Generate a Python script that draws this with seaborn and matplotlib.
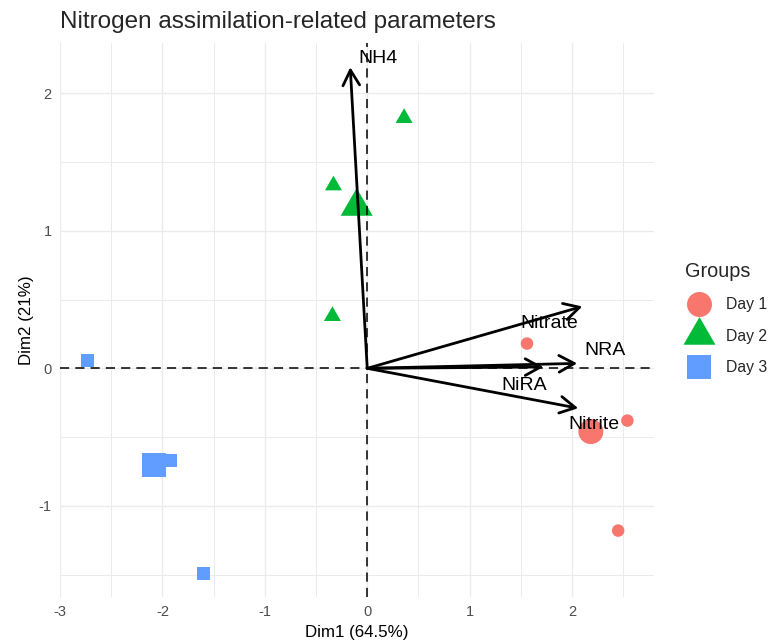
import numpy as np
import pandas as pd
import matplotlib
matplotlib.use("Agg")
import matplotlib.pyplot as plt
import seaborn as sns
from matplotlib.path import Path
from matplotlib.lines import Line2D

# ---------------- data ----------------
groups = ["Day 1", "Day 1", "Day 1", "Day 2", "Day 2", "Day 2", "Day 3", "Day 3", "Day 3"]
dim1 = [1.56, 2.54, 2.45, 0.36, -0.33, -0.34, -2.73, -1.92, -1.60]
dim2 = [0.18, -0.38, -1.18, 1.82, 1.33, 0.38, 0.06, -0.67, -1.49]

var_names = ["NH4", "Nitrate", "NRA", "NiRA", "Nitrite"]
var_dim1 = [-0.166, 2.10, 2.05, 1.72, 2.06]
var_dim2 = [2.19, 0.45, 0.036, 0.01, -0.29]

group_names = ["Day 1", "Day 2", "Day 3"]
group_colors = ["#F8766D", "#00BA38", "#619CFF"]

x_ticks = [-3, -2, -1, 0, 1, 2]
y_ticks = [-1, 0, 1, 2]

title = "Nitrogen assimilation-related parameters"
x_label = "Dim1 (64.5%)"
y_label = "Dim2 (21%)"
legend_title = "Groups"

# ---------------- layout / style ----------------
label_offsets = {"NH4": (20, 6), "Nitrate": (-24, -12), "NRA": (20, 9),
                 "NiRA": (-14, -13), "Nitrite": (11, -12)}  # in points

tri = Path([(-0.5, -0.2887), (0.5, -0.2887), (0.0, 0.5774), (-0.5, -0.2887)],
           [Path.MOVETO, Path.LINETO, Path.LINETO, Path.CLOSEPOLY])
markers = {"Day 1": "o", "Day 2": tri, "Day 3": "s"}
small_sizes = {"Day 1": 81, "Day 2": 200, "Day 3": 88}
big_sizes = {"Day 1": 324, "Day 2": 708, "Day 3": 300}
palette = dict(zip(group_names, group_colors))

df = pd.DataFrame({"Dim1": dim1, "Dim2": dim2, "Group": groups})
means = df.groupby("Group", as_index=False)[["Dim1", "Dim2"]].mean()

sns.set_style("white")
plt.rcParams["font.family"] = ["Liberation Sans", "DejaVu Sans"]
plt.rcParams["axes.unicode_minus"] = False

W, H = 769, 644
fig = plt.figure(figsize=(W / 100, H / 100), dpi=100)
L, R, T, B = 60, 654, 43, 597
ax = fig.add_axes([L / W, 1 - B / H, (R - L) / W, (B - T) / H])

ax.set_xlim(-3.0, 2.80)
ax.set_ylim(-1.663, 2.366)

# grid
ax.set_xticks(x_ticks)
ax.set_yticks(y_ticks)
ax.set_xticks(np.arange(-2.5, 2.6, 1.0), minor=True)
ax.set_yticks(np.arange(-1.5, 2.0, 1.0), minor=True)
ax.grid(which="major", color="#EBEBEB", linewidth=1.0)
ax.grid(which="minor", color="#EBEBEB", linewidth=0.7)
ax.set_axisbelow(True)
for s in ax.spines.values():
    s.set_visible(False)
ax.tick_params(which="major", length=3.5, width=1.1, color="#333333",
               labelcolor="#4D4D4D", labelsize=10.5, pad=2.5)
ax.tick_params(which="minor", length=0)

# individual points
sns.scatterplot(data=df, x="Dim1", y="Dim2", hue="Group", style="Group",
                size="Group", sizes=small_sizes, markers=markers,
                palette=palette, linewidth=0, legend=False, ax=ax, zorder=3)
# group mean points
sns.scatterplot(data=means, x="Dim1", y="Dim2", hue="Group", style="Group",
                size="Group", sizes=big_sizes, markers=markers,
                palette=palette, linewidth=0, legend=False, ax=ax, zorder=3)

# variable arrows and labels
for name, vx, vy in zip(var_names, var_dim1, var_dim2):
    ax.annotate("", xy=(vx, vy), xytext=(0, 0),
                arrowprops=dict(arrowstyle="->,head_length=0.55,head_width=0.3",
                                color="black", lw=2.0, shrinkA=0, shrinkB=0,
                                mutation_scale=20), zorder=4)
    ox, oy = label_offsets[name]
    ax.annotate(name, xy=(vx, vy), xytext=(ox, oy), textcoords="offset points",
                ha="center", va="center", fontsize=14, color="black", zorder=5)

# dashed reference lines
ax.axhline(0, color="black", lw=1.1, ls=(0, (6, 4)), zorder=6)
ax.axvline(0, color="black", lw=1.1, ls=(0, (6, 4)), zorder=6)

ax.set_xlabel(x_label, fontsize=12.2, color="black", labelpad=4)
ax.set_ylabel(y_label, fontsize=12.2, color="black", labelpad=3)
fig.text(L / W, 1 - 22 / H, title, fontsize=17.5, ha="left", va="center")

# legend
handles = []
leg_ms = {"Day 1": 18, "Day 2": 26.6, "Day 3": 17.3}
for g, c in zip(group_names, group_colors):
    handles.append(Line2D([], [], linestyle="none", marker=markers[g], color=c,
                          markeredgewidth=0, markersize=leg_ms[g]))
leg = fig.legend(handles, group_names, title=legend_title, loc="upper left",
                 bbox_to_anchor=(685 / W, 1 - 262 / H), frameon=False,
                 fontsize=11.3, title_fontsize=14.3, borderpad=0,
                 handlelength=1.77, handletextpad=0.83, labelspacing=1.05,
                 alignment="left", borderaxespad=0)

fig.savefig("out.png", dpi=100)
